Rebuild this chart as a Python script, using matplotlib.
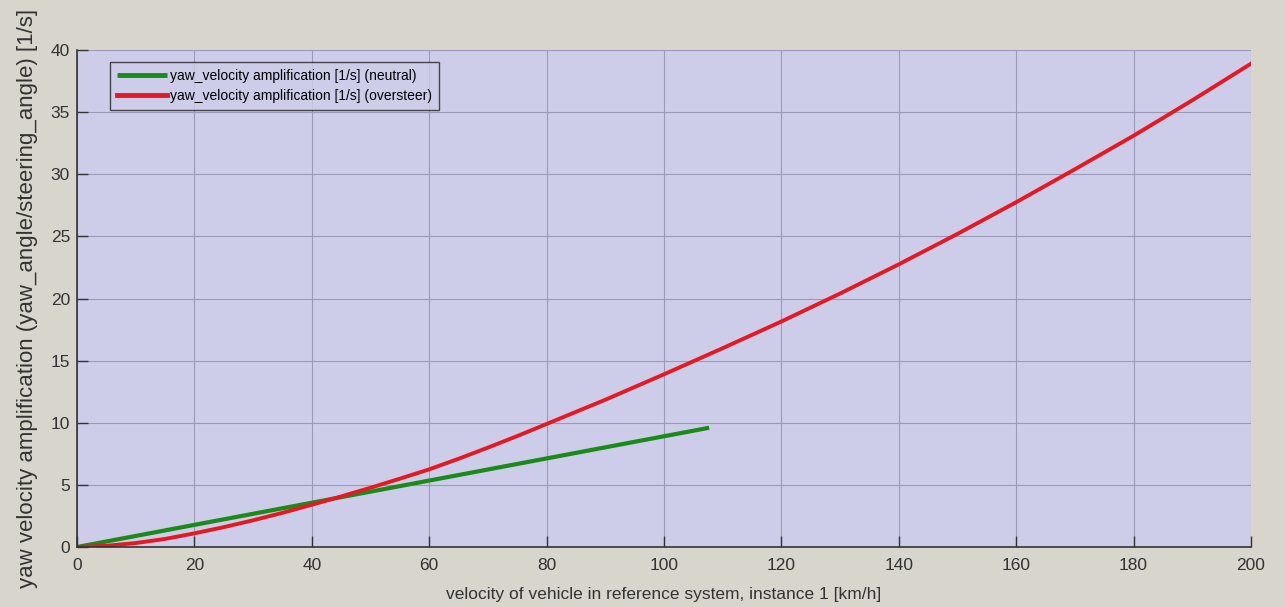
import matplotlib
matplotlib.use('Agg')
import matplotlib.pyplot as plt

# neutral steering: straight line up to ~107.5 km/h
v_neutral = [0, 107.7]
g_neutral = [0, 9.6]

# oversteer: values
v_over = [0, 5, 10, 15, 20, 25, 30, 35, 40, 45, 50, 55, 60, 65, 70, 75, 80, 90, 100, 110, 120,
          130, 140, 150, 160, 170, 180, 190, 200]
g_over = [0, 0.1, 0.32, 0.65, 1.1, 1.6, 2.15, 2.75, 3.4, 4.07, 4.77, 5.5, 6.25, 7.1, 8.0, 8.93,
          9.9, 11.85, 13.9, 16.0, 18.15, 20.4, 22.75, 25.2, 27.75, 30.4, 33.1, 35.95, 38.9]

xticks = list(range(0, 201, 20))
yticks = list(range(0, 41, 5))

plt.rcParams['font.family'] = ['Liberation Sans', 'DejaVu Sans']

fig = plt.figure(figsize=(12.85, 6.07), dpi=100, facecolor='#d8d5cc')
ax = fig.add_axes([0.0599, 0.0988, 0.9136, 0.8188], facecolor='#cdcde9')

ax.plot(v_neutral, g_neutral, color='#1a8a1a', lw=3, label='yaw_velocity amplification [1/s] (neutral)',
        solid_capstyle='butt')
ax.plot(v_over, g_over, color='#e31a24', lw=2.8, label='yaw_velocity amplification [1/s] (oversteer)')

ax.set_xlim(0, 200)
ax.set_ylim(0, 40)
ax.set_xticks(xticks)
ax.set_yticks(yticks)
ax.grid(True, color='#9a9ab8', lw=0.8)
ax.set_axisbelow(True)
for s in ['top', 'right']:
    ax.spines[s].set_visible(False)
for s in ['left', 'bottom']:
    ax.spines[s].set_color('#333333')
    ax.spines[s].set_linewidth(1.2)
ax.tick_params(direction='in', length=8, width=1, labelsize=12.5, colors='#333333')
ax.tick_params(axis='x', pad=8)
ax.tick_params(axis='y', pad=5)

ax.set_xlabel('velocity of vehicle in reference system, instance 1 [km/h]', fontsize=12.5, color='#333333')
ax.xaxis.set_label_coords(0.5, -0.08)
ax.set_ylabel('yaw velocity amplification (yaw_angle/steering_angle) [1/s]', fontsize=16, color='#333333')
ax.yaxis.set_label_coords(-0.033, 0.5)

leg = ax.legend(loc='upper left', bbox_to_anchor=(0.028, 0.976), fontsize=10, handlelength=3.6,
                frameon=True, fancybox=False, edgecolor='#222222', facecolor='#cdcde9',
                borderpad=0.5, labelspacing=0.45, handletextpad=0.2, borderaxespad=0)
leg.get_frame().set_linewidth(1)
for line in leg.get_lines():
    line.set_linewidth(3.5)

fig.savefig('out.png', dpi=100, facecolor=fig.get_facecolor())
